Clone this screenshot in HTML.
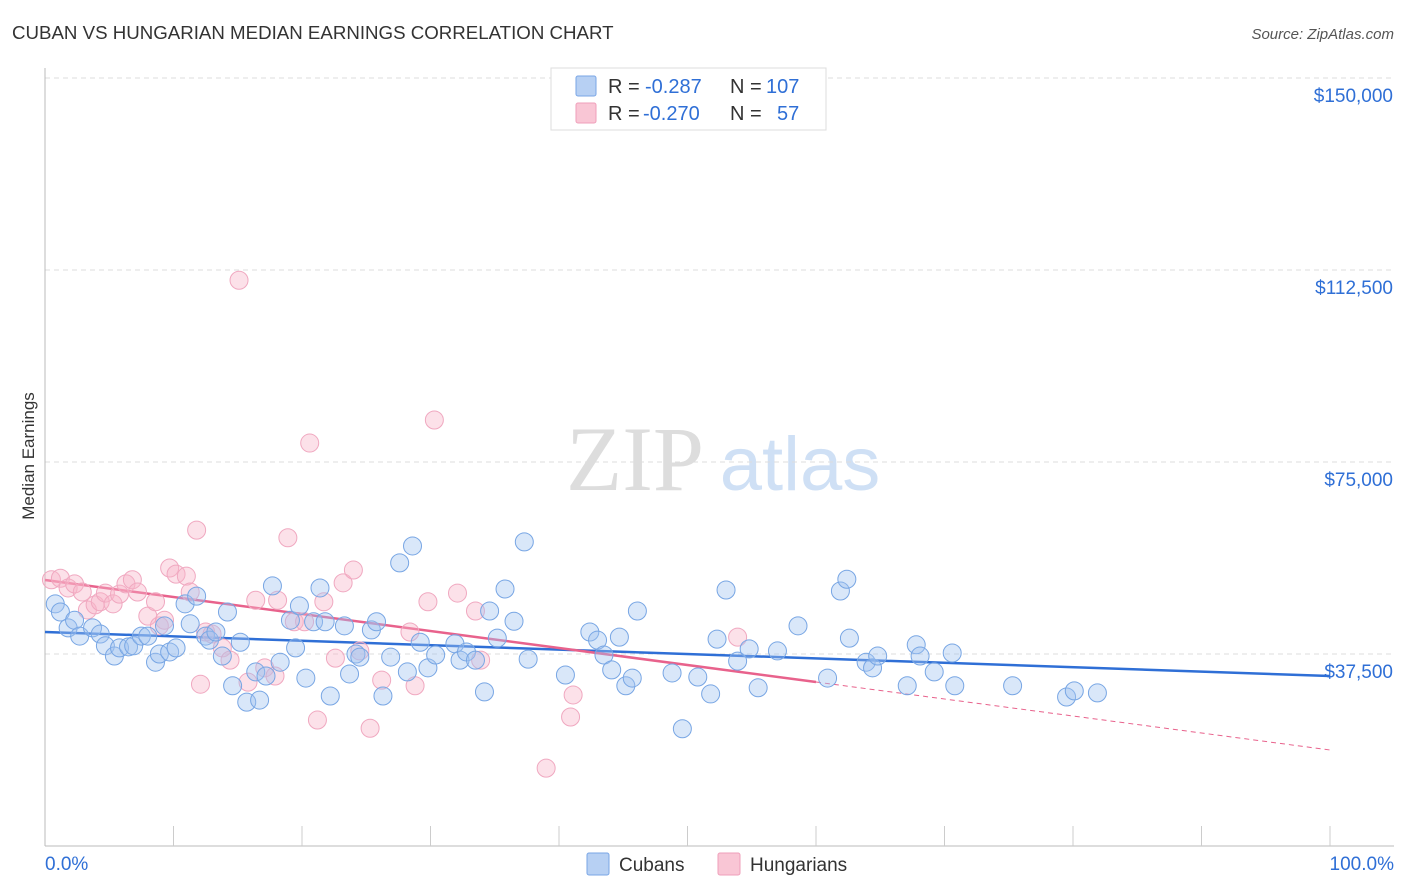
<!DOCTYPE html>
<html><head><meta charset="utf-8"><style>
body{margin:0;background:#fff;font-family:"Liberation Sans",sans-serif}
svg{display:block}
</style></head><body>
<svg id="chart" width="1406" height="892" xmlns="http://www.w3.org/2000/svg">
<text x="12" y="39" font-size="18.7" fill="#333">CUBAN VS HUNGARIAN MEDIAN EARNINGS CORRELATION CHART</text>
<text x="1394" y="39" font-size="15" fill="#555" text-anchor="end" font-style="italic">Source: ZipAtlas.com</text>
<text x="34" y="456" font-size="17" fill="#333" text-anchor="middle" transform="rotate(-90 34 456)">Median Earnings</text>
<g><text x="635" y="490" font-size="92" fill="#ddd" font-family="Liberation Serif,serif" text-anchor="middle">ZIP</text><text x="800" y="490" font-size="76" fill="#cfe0f5" text-anchor="middle">atlas</text></g>
<g id="grid"></g><g id="axes"></g><g id="trend"></g><g id="pts"></g>
<g>
<rect x="551" y="68" width="275" height="62" fill="#fff" stroke="#ddd"/>
<rect x="576" y="76" width="20" height="20" fill="#b7d0f3" stroke="#7aa6e6" rx="2"/>
<rect x="576" y="103" width="20" height="20" fill="#f9c6d5" stroke="#ef9fba" rx="2"/>
<text x="608" y="93" font-size="20" fill="#333">R =</text>
<text x="645" y="93" font-size="20" fill="#2f6fd6">-0.287</text>
<text x="730" y="93" font-size="20" fill="#333">N =</text>
<text x="766" y="93" font-size="20" fill="#2f6fd6">107</text>
<text x="608" y="120" font-size="20" fill="#333">R =</text>
<text x="643" y="120" font-size="20" fill="#2f6fd6">-0.270</text>
<text x="730" y="120" font-size="20" fill="#333">N =</text>
<text x="777" y="120" font-size="20" fill="#2f6fd6">57</text>
</g>
<g>
<rect x="587" y="853" width="22" height="22" fill="#b7d0f3" stroke="#7aa6e6" rx="2"/>
<text x="619" y="871" font-size="19" fill="#333">Cubans</text>
<rect x="718" y="853" width="22" height="22" fill="#f9c6d5" stroke="#ef9fba" rx="2"/>
<text x="750" y="871" font-size="19" fill="#333">Hungarians</text>
</g>
</svg>
<script>
const yTicks=[37500,75000,112500,150000];
const yTickLabels=["$37,500","$75,000","$112,500","$150,000"];
const xEndLabels=["0.0%","100.0%"];
const blueX=[0.8,1.2,1.8,2.3,2.7,3.7,4.3,4.7,5.4,5.8,6.5,6.9,7.5,8.0,8.6,8.9,9.3,9.7,10.2,10.9,11.3,11.8,12.5,12.8,13.3,13.8,14.2,14.6,15.2,15.7,16.4,16.7,17.2,17.7,18.3,19.1,19.5,19.8,20.3,20.9,21.4,21.8,22.2,23.3,23.7,24.2,24.5,25.4,25.8,26.3,26.9,27.6,28.2,28.6,29.2,29.8,30.4,31.9,32.3,32.8,33.5,34.2,34.6,35.2,35.8,36.5,37.3,37.6,40.5,42.4,43.0,43.5,44.1,44.7,45.2,45.7,46.1,48.8,49.6,50.8,51.8,52.3,53.0,53.9,54.8,55.5,57.0,58.6,60.9,61.9,62.4,62.6,63.9,64.4,64.8,67.1,67.8,68.1,69.2,70.6,70.8,75.3,79.5,80.1,81.9];
const blueY=[47.3,45.7,42.6,44.1,41.0,42.6,41.4,39.1,37.1,38.7,38.9,39.1,41.0,41.0,35.9,37.5,43.0,37.9,38.7,47.3,43.4,48.8,41.0,40.2,41.8,37.1,45.7,31.3,39.8,28.1,34.0,28.5,33.2,50.8,35.9,44.1,38.7,46.9,32.8,43.8,50.4,43.8,29.3,43.0,33.6,37.5,36.9,42.2,43.8,29.3,36.9,55.3,34.0,58.6,39.8,34.8,37.3,39.5,36.3,37.9,36.3,30.1,45.9,40.6,50.2,43.9,59.4,36.5,33.4,41.8,40.2,37.3,34.4,40.8,31.3,32.8,45.9,33.8,22.9,33.0,29.7,40.4,50.0,36.1,38.5,30.9,38.1,43.0,32.8,49.8,52.1,40.6,35.9,34.8,37.1,31.3,39.3,37.1,34.0,37.7,31.3,31.3,29.1,30.3,29.9];
const pinkX=[0.5,1.2,1.8,2.3,2.9,3.3,3.9,4.3,4.7,5.3,5.8,6.3,6.8,7.2,8.0,8.6,8.9,9.3,9.7,10.2,11.0,11.3,11.8,12.1,12.5,13.0,13.8,14.4,15.1,15.8,16.4,17.1,17.9,18.1,18.9,19.4,20.2,20.6,21.2,21.7,22.6,23.2,24.0,24.5,25.3,26.2,28.4,28.8,29.8,30.3,32.1,33.5,33.9,39.0,40.9,41.1,53.9];
const pinkY=[52.0,52.3,50.4,51.2,49.6,46.1,47.1,47.7,49.4,47.3,49.2,51.2,52.0,49.6,44.9,47.7,43.0,44.1,54.3,53.1,52.7,49.6,61.7,31.6,41.8,41.4,38.7,36.3,110.5,32.0,48.0,34.8,33.2,48.0,60.2,43.8,43.8,78.7,24.6,47.7,36.7,51.4,53.9,38.1,23.0,32.4,41.8,31.3,47.7,83.2,49.4,45.9,36.3,15.2,25.2,29.5,40.8];
const blueTrend=[41.8,33.2];   // value at 0% and 100%
const pinkTrend=[51.95,18.75];
const pinkSolidEnd=60;
const NS="http://www.w3.org/2000/svg";
const xs=p=>45+p*12.85;
const ys=v=>846-v/37500*192;
function mk(tag,at,parent){const e=document.createElementNS(NS,tag);for(const k in at)e.setAttribute(k,at[k]);document.getElementById(parent).appendChild(e);return e;}
yTicks.forEach((t,i)=>{
 let l=mk('line',{x1:45,x2:1394,y1:ys(t),y2:ys(t),stroke:'#ddd','stroke-dasharray':'5,4'},'grid');
 
 
 let tx=mk('text',{x:1393,y:ys(t)+24,'font-size':19,fill:'#2f6fd6','text-anchor':'end'},'axes');
 tx.textContent=yTickLabels[i];
 
 
});
let ya=mk('line',{x1:45,x2:45,y1:68,y2:846,stroke:'#bbb'},'axes');


let xa=mk('line',{x1:45,x2:1394,y1:846,y2:846,stroke:'#bbb'},'axes');


for(let i=1;i<=10;i++){let t=mk('line',{x1:xs(i*10),x2:xs(i*10),y1:826,y2:846,stroke:'#ccc'},'axes');
 
 }
xEndLabels.forEach((s,i)=>{let t=mk('text',{x:i?1394:45,y:870,'font-size':19,fill:'#2f6fd6','text-anchor':i?'end':'start'},'axes');t.textContent=s;
 
 });
function dots(X,Y,fill,stroke,name){X.forEach((x,i)=>{let c=mk('circle',{cx:xs(x),cy:ys(Y[i]*1000),r:9,fill:fill,stroke:stroke,'stroke-width':1},'pts');
 
 });}
dots(pinkX,pinkY,'rgba(248,180,200,0.4)','#f0a8c0','hungarian-point');
dots(blueX,blueY,'rgba(160,195,240,0.4)','#78a6e4','cuban-point');
const tv=(tr,p)=>(tr[0]+(tr[1]-tr[0])*p/100)*1000;
let bl=mk('line',{x1:xs(0),y1:ys(tv(blueTrend,0)),x2:xs(100),y2:ys(tv(blueTrend,100)),stroke:'#2f6fd6','stroke-width':2.5},'trend');


let pl=mk('line',{x1:xs(0),y1:ys(tv(pinkTrend,0)),x2:xs(pinkSolidEnd),y2:ys(tv(pinkTrend,pinkSolidEnd)),stroke:'#e8628c','stroke-width':2.5},'trend');


let pd=mk('line',{x1:xs(pinkSolidEnd),y1:ys(tv(pinkTrend,pinkSolidEnd)),x2:xs(100),y2:ys(tv(pinkTrend,100)),stroke:'#e8628c','stroke-width':1,'stroke-dasharray':'5,4'},'trend');


</script>
</body></html>
